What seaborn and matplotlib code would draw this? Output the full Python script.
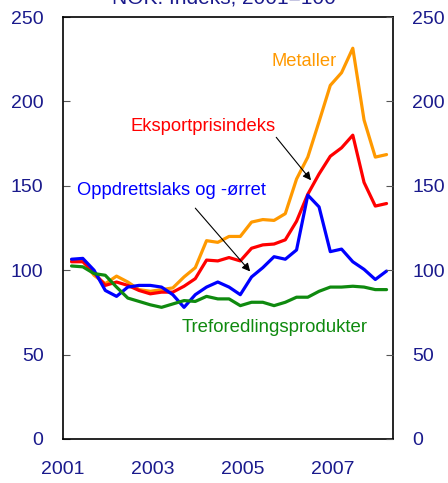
#!/usr/bin/env python3
"""
Export price indices for Norwegian goods, NOK, 2001=100 (quarterly).
"""
import numpy as np
import pandas as pd
import matplotlib
matplotlib.use("Agg")
import matplotlib.pyplot as plt
import seaborn as sns

# Quarterly observations, 2001Q1 - 2008Q1
quarters = [f"{y}Q{q}" for y in range(2001, 2009) for q in range(1, 5)][:29]

metaller = [106, 106, 97, 92, 96.5, 93, 88.5, 87.5, 88.5, 89.5,
            96, 101.5, 117.5, 116.5, 120, 120, 128.5, 130, 129.5, 133.5,
            154, 167, 188, 209.5, 217, 231.5, 189, 167, 168.5]
eksport = [105, 105, 98.5, 91, 93, 91, 88, 86, 87, 87,
           90.5, 95, 106, 105.5, 107.5, 105.5, 113, 115, 115.5, 118,
           129, 145, 157, 167.5, 172.5, 180, 152, 138, 139.5]
laks = [106.5, 107, 100, 88, 84.5, 90, 91, 91, 90, 85.5,
        78, 85.5, 90, 93, 90, 85.5, 96, 101.5, 108, 106.5,
        112, 144.5, 137.5, 111, 112.5, 105, 100.5, 94.5, 99.5]
treforedling = [102.5, 102, 98, 97, 90, 83.5, 81.5, 79.5, 78, 80,
                82, 81.5, 84.5, 83, 83, 79, 81, 81, 79, 81,
                84, 84, 87.5, 90, 90, 90.5, 90, 88.5, 88.5]

series_names = ["Metaller", "Eksportprisindeks", "Oppdrettslaks og -ørret", "Treforedlingsprodukter"]
series_colors = ["#FF9900", "#FF0000", "#0000FF", "#0F8A0F"]
y_ticks = [0, 50, 100, 150, 200, 250]
x_ticks = [2001, 2003, 2005, 2007]

NAVY = "#1A1A8C"


def quarter_to_year(label):
    year, q = label.split("Q")
    return int(year) + (int(q) - 1) / 4 + 0.19


def build_frame():
    t = [quarter_to_year(q) for q in quarters]
    frames = []
    for name, vals in zip(series_names, [metaller, eksport, laks, treforedling]):
        frames.append(pd.DataFrame({"t": t, "value": vals, "series": name}))
    return pd.concat(frames, ignore_index=True)


if __name__ == "__main__":
    sns.set_style("white")
    plt.rcParams["font.family"] = ["Liberation Sans", "DejaVu Sans"]

    df = build_frame()

    fig = plt.figure(figsize=(4.48, 4.83), dpi=100)
    ax = fig.add_axes([0.1406, 0.0911, 0.7366, 0.8737])

    sns.lineplot(data=df, x="t", y="value", hue="series",
                 palette=dict(zip(series_names, series_colors)),
                 linewidth=2.3, legend=False, ax=ax, sort=False)

    ax.set_xlim(2001, 2008.333)
    ax.set_ylim(0, 250)
    ax.set_xticks(x_ticks)
    ax.set_yticks(y_ticks)
    ax.set_xlabel("")
    ax.set_ylabel("")

    for s in ax.spines.values():
        s.set_color("black")
        s.set_linewidth(1.2)

    ax.tick_params(axis="x", direction="in", length=6, width=0.8,
                   colors="#555555", labelcolor=NAVY, labelsize=14, pad=15.5)
    ax.tick_params(axis="y", direction="in", length=5, width=0.8,
                   colors="#555555", labelcolor=NAVY, labelsize=14, pad=14,
                   left=True, right=True)

    # right-hand duplicate axis labels
    ax2 = ax.twinx()
    ax2.set_ylim(ax.get_ylim())
    ax2.set_yticks(y_ticks)
    ax2.tick_params(axis="y", direction="in", length=5, width=0.8,
                    colors="#555555", labelcolor=NAVY, labelsize=14, pad=14)
    for s in ax2.spines.values():
        s.set_visible(False)

    # series labels
    ax.text(2006.36, 223.5, "Metaller", color=series_colors[0], fontsize=13.2, ha="center", va="center")
    ax.text(2004.12, 185.4, "Eksportprisindeks", color=series_colors[1], fontsize=13.2, ha="center", va="center")
    ax.text(2003.4, 147.5, "Oppdrettslaks og -ørret", color=series_colors[2], fontsize=13.2, ha="center", va="center")
    ax.text(2005.71, 66, "Treforedlingsprodukter", color=series_colors[3], fontsize=13.4, ha="center", va="center")

    arrow = dict(arrowstyle="-|>", color="black", lw=0.8, mutation_scale=12)
    ax.annotate("", xy=(2006.55, 152), xytext=(2005.7, 180), arrowprops=arrow)
    ax.annotate("", xy=(2005.2, 98), xytext=(2003.9, 138), arrowprops=arrow)

    fig.text(0.5, 1.004, "NOK. Indeks, 2001=100", color=NAVY, fontsize=15,
             ha="center", va="center")

    fig.savefig("out.png", dpi=100)
